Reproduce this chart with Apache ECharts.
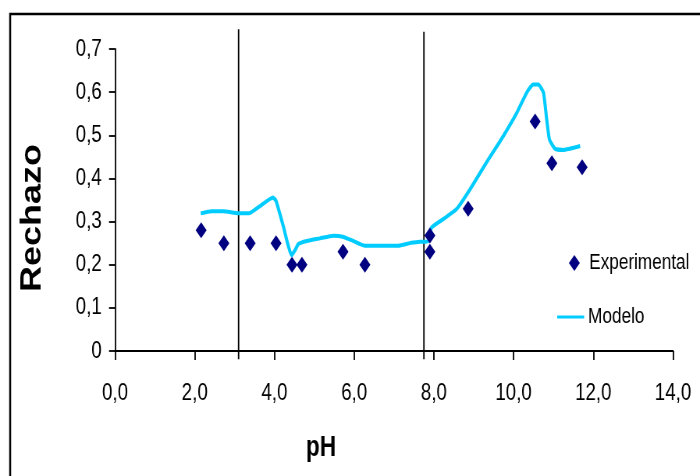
<!DOCTYPE html>
<html>
<head>
<meta charset="utf-8">
<script src="https://cdn.jsdelivr.net/npm/echarts@6/dist/echarts.min.js"></script>
<style>
html,body{margin:0;padding:0;background:#fff;overflow:hidden;width:700px;height:476px}
#c{width:897px;height:476px;transform:scaleX(0.78037);transform-origin:0 0}
</style>
</head>
<body>
<div id="c"></div>
<script>
// Experimental points [pH, Rechazo]
var expPH  = [2.16, 2.73, 3.39, 4.04, 4.44, 4.69, 5.72, 6.27, 7.90, 7.90, 8.86, 10.54, 10.96, 11.72];
var expVal = [0.28, 0.25, 0.25, 0.25, 0.20, 0.20, 0.23, 0.20, 0.268, 0.23, 0.33, 0.532, 0.435, 0.426];
// Model curve
var modPH  = [2.15, 2.42, 2.72, 3.09, 3.36, 3.64, 3.96, 4.04, 4.22, 4.43, 4.53, 4.60, 4.81, 5.14, 5.48, 5.71, 5.98, 6.27, 6.73, 7.11, 7.40, 7.65, 7.86, 7.94, 8.24, 8.57, 8.91, 9.32, 9.74, 10.08, 10.33, 10.49, 10.62, 10.75, 10.83, 10.90, 11.04, 11.25, 11.67];
var modVal = [0.319, 0.324, 0.324, 0.319, 0.319, 0.336, 0.356, 0.348, 0.29, 0.222, 0.236, 0.248, 0.255, 0.261, 0.267, 0.265, 0.255, 0.244, 0.244, 0.244, 0.25, 0.253, 0.255, 0.286, 0.306, 0.329, 0.375, 0.437, 0.498, 0.552, 0.599, 0.618, 0.618, 0.599, 0.537, 0.49, 0.469, 0.466, 0.475];
// Vertical divider lines (pH) and their extents
var dividerPH = [3.1, 7.75];
var dividerTop = [0.746, 0.74];
var dividerBottom = -0.019;
// Tick labels
var xTickLabels = ['0,0', '2,0', '4,0', '6,0', '8,0', '10,0', '12,0', '14,0'];
var yTickLabels = ['0', '0,1', '0,2', '0,3', '0,4', '0,5', '0,6', '0,7'];

var sans = '"Liberation Sans", Arial, sans-serif';

var expData = expPH.map(function (x, i) { return [x, expVal[i]]; });
var modData = modPH.map(function (x, i) { return [x, modVal[i]]; });

var series = [
  {
    name: 'Modelo', type: 'line', data: modData, smooth: 0.15, symbol: 'none',
    lineStyle: { color: '#00CCFF', width: 4 }, itemStyle: { color: '#00CCFF' }, z: 3
  },
  {
    name: 'Experimental', type: 'scatter', data: expData, symbol: 'diamond', symbolSize: [14, 16],
    itemStyle: { color: '#000080', opacity: 1 }, z: 4
  }
];
dividerPH.forEach(function (p, i) {
  series.push({
    name: 'div' + i, type: 'line', data: [[p, dividerBottom], [p, dividerTop[i]]],
    symbol: 'none', clip: false, silent: true, lineStyle: { color: '#000', width: 1.8 }, z: 2
  });
});

var chart = echarts.init(document.getElementById('c'));
chart.setOption({
  animation: false,
  backgroundColor: '#fff',
  graphic: [{
    type: 'rect', shape: { x: 13, y: 14, width: 950, height: 500 },
    style: { fill: 'none', stroke: '#000', lineWidth: 2.5 }, silent: true, z: -1
  }],
  grid: { left: 147.4, right: 34.6, top: 49, bottom: 125 },
  legend: [
    {
      data: [{ name: 'Experimental', icon: 'diamond', itemStyle: { color: '#000080', opacity: 1 } }],
      left: 724, top: 247, itemWidth: 14, itemHeight: 16, itemGap: 0,
      textStyle: { fontFamily: sans, fontSize: 22, color: '#000', padding: [0, 0, 0, 7] }
    },
    {
      data: [{ name: 'Modelo', icon: 'rect' }],
      left: 709, top: 301, itemWidth: 34.6, itemHeight: 3, itemGap: 0,
      textStyle: { fontFamily: sans, fontSize: 22, color: '#000' }
    }
  ],
  xAxis: {
    type: 'value', min: 0, max: 14, interval: 2,
    splitLine: { show: false },
    axisLine: { onZero: false, lineStyle: { color: '#000', width: 2 } },
    axisTick: { length: 9, lineStyle: { color: '#000', width: 1.8 } },
    axisLabel: {
      margin: 30, color: '#000', fontFamily: sans, fontSize: 24,
      formatter: function (v) { return xTickLabels[Math.round(v / 2)]; }
    },
    name: 'pH', nameLocation: 'middle', nameGap: 82,
    nameTextStyle: { fontFamily: sans, fontWeight: 'bold', fontSize: 29, color: '#000', padding: [0, 187, 0, 0] }
  },
  yAxis: {
    type: 'value', min: 0, max: 0.7, interval: 0.1,
    splitLine: { show: false },
    axisLine: { show: true, lineStyle: { color: '#000', width: 1.8 } },
    axisTick: { show: true, length: 7.7, lineStyle: { color: '#000', width: 1.8 } },
    axisLabel: {
      margin: 17, color: '#000', fontFamily: sans, fontSize: 24,
      formatter: function (v) { return yTickLabels[Math.round(v * 10)]; }
    },
    name: 'Rechazo', nameLocation: 'middle', nameRotate: 90, nameGap: 87,
    nameTextStyle: { fontFamily: sans, fontWeight: 'bold', fontSize: 36, color: '#000', padding: [0, 36, 0, 0] }
  },
  series: series
});
</script>
</body>
</html>
